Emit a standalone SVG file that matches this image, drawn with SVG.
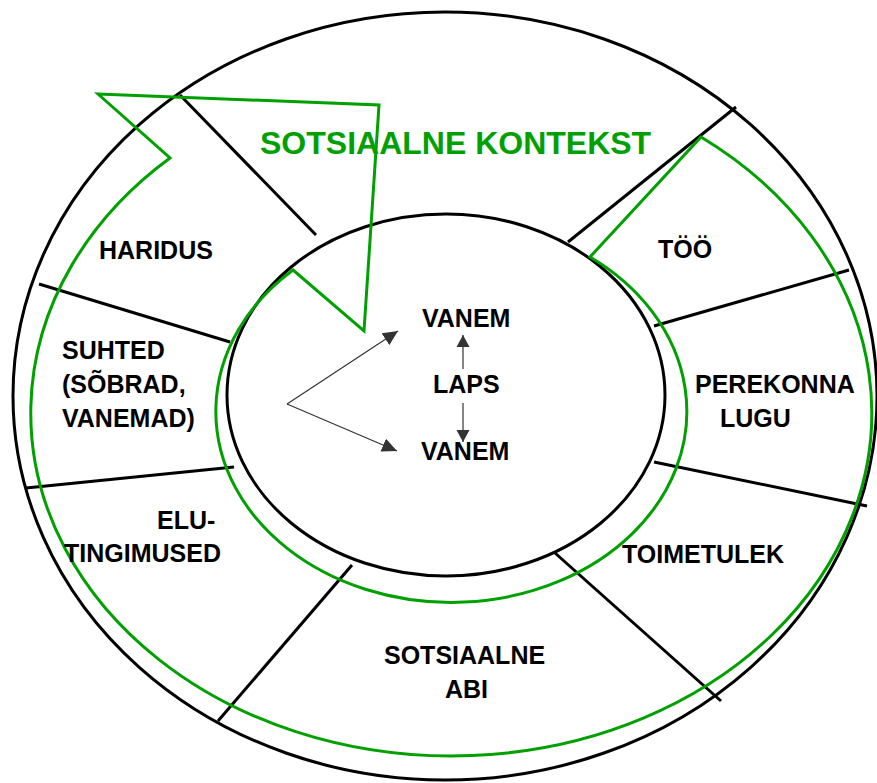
<svg xmlns="http://www.w3.org/2000/svg" width="877" height="783" viewBox="0 0 877 783">
  <style>
    .ring { fill: none; stroke: #000; stroke-width: 3; }
    .div { stroke: #000; stroke-width: 3; stroke-linecap: butt; }
    .green { fill: none; stroke: #00a000; stroke-width: 3; stroke-linejoin: miter; }
    .lbl { font-family: "Liberation Sans", Arial, sans-serif; font-weight: bold; font-size: 25px; fill: #000; }
    .title { font-family: "Liberation Sans", Arial, sans-serif; font-weight: bold; font-size: 32px; fill: #00a000; }
    .arr { stroke: #333; stroke-width: 1.2; fill: none; }
  </style>
  <defs>
    <marker id="ahBig" markerUnits="userSpaceOnUse" markerWidth="16" markerHeight="14" refX="15" refY="7" orient="auto">
      <path d="M0,0 L15,7 L0,14 Z" fill="#333"/>
    </marker>
    <marker id="ahSmall" markerUnits="userSpaceOnUse" markerWidth="13" markerHeight="14" refX="12" refY="7" orient="auto">
      <path d="M0,0.5 L12,7 L0,13.5 Z" fill="#333"/>
    </marker>
  </defs>
  <rect width="877" height="783" fill="#fff"/>

  <g id="rings">
    <ellipse class="ring" cx="445" cy="396" rx="432" ry="384"/>
    <ellipse class="ring" cx="446" cy="395" rx="219" ry="181"/>
  </g>

  <g id="dividers">
    <line class="div" x1="180" y1="95" x2="316" y2="235"/>
    <line class="div" x1="39" y1="284" x2="230" y2="342"/>
    <line class="div" x1="26" y1="488" x2="234" y2="467"/>
    <line class="div" x1="218" y1="721" x2="352" y2="565"/>
    <line class="div" x1="555" y1="553" x2="721" y2="701"/>
    <line class="div" x1="654" y1="462" x2="867" y2="506"/>
    <line class="div" x1="654" y1="326" x2="849" y2="270"/>
    <line class="div" x1="568" y1="242" x2="736" y2="107"/>
  </g>

  <g id="social-context">
    <path class="green" d="M98,94 L379,105 L364,331 L293,270 A235.5,191 0 1 0 590,257 L701,137 A420.5,343 0 1 1 170,158 Z"/>
    <text class="title" x="260" y="154">SOTSIAALNE KONTEKST</text>
  </g>

  <g id="connectors">
    <line class="arr" x1="287" y1="404" x2="398" y2="331" marker-end="url(#ahBig)"/>
    <line class="arr" x1="287" y1="404" x2="397" y2="451" marker-end="url(#ahBig)"/>
    <line class="arr" x1="463" y1="369" x2="463" y2="335" marker-end="url(#ahSmall)"/>
    <line class="arr" x1="463" y1="403" x2="463" y2="442" marker-end="url(#ahSmall)"/>
  </g>

  <g id="node-vanem-top"><text class="lbl" x="422" y="327">VANEM</text></g>
  <g id="node-laps"><text class="lbl" x="433" y="393">LAPS</text></g>
  <g id="node-vanem-bottom"><text class="lbl" x="421" y="460">VANEM</text></g>

  <g id="node-haridus"><text class="lbl" x="99" y="259">HARIDUS</text></g>
  <g id="node-too"><text class="lbl" x="658" y="258">TÖÖ</text></g>
  <g id="node-suhted">
    <text class="lbl" x="62" y="359">SUHTED</text>
    <text class="lbl" x="62" y="393">(SÕBRAD,</text>
    <text class="lbl" x="62" y="427">VANEMAD)</text>
  </g>
  <g id="node-perekonna">
    <text class="lbl" x="695" y="393">PEREKONNA</text>
    <text class="lbl" x="720" y="427">LUGU</text>
  </g>
  <g id="node-elutingimused">
    <text class="lbl" x="157" y="529">ELU-</text>
    <text class="lbl" x="64" y="562">TINGIMUSED</text>
  </g>
  <g id="node-toimetulek"><text class="lbl" x="622" y="563">TOIMETULEK</text></g>
  <g id="node-sotsiaalne-abi">
    <text class="lbl" x="384" y="664">SOTSIAALNE</text>
    <text class="lbl" x="445" y="698">ABI</text>
  </g>
</svg>
